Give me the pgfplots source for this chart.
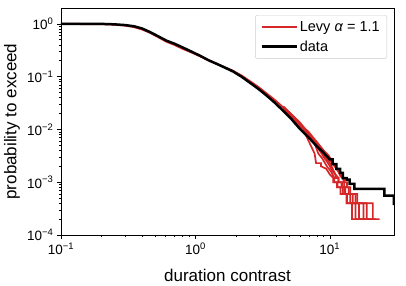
\documentclass[border=0pt]{standalone}
\usepackage{pgfplots}
\pgfplotsset{compat=1.18}
\usepackage{fontspec}
\setmainfont{Liberation Sans}
\definecolor{tabred}{HTML}{D62728}
\begin{document}
\begin{tikzpicture}
\begin{axis}[
  scale only axis, width=333bp, height=227bp,
  xmode=log, ymode=log,
  xmin=0.1, xmax=30, ymin=1e-4, ymax=2,
  xtick={0.1,1,10}, xticklabels={10\textsuperscript{−1},10\textsuperscript{0},10\textsuperscript{1}},
  ytick={1e-4,1e-3,1e-2,1e-1,1}, yticklabels={10\textsuperscript{−4},10\textsuperscript{−3},10\textsuperscript{−2},10\textsuperscript{−1},10\textsuperscript{0}},
  tick align=outside, tick pos=left,
  major tick length=4bp, minor tick length=2bp,
  axis line style={line width=0.8bp},
  tick style={line width=0.6bp, black},
  tick label style={font=\fontsize{13.5bp}{16bp}\selectfont},
  label style={font=\fontsize{17bp}{20bp}\selectfont},
  xlabel={duration contrast}, ylabel={probability to exceed},
  xlabel style={at={(axis description cs:0.5,-0.18)}, anchor=center},
  ylabel style={at={(axis description cs:-0.147,0.5)}, anchor=center},
  legend style={at={(axis description cs:0.979,0.969)}, anchor=north east,
    draw=black!20, rounded corners=2bp, fill=white,
    font=\fontsize{14.5bp}{17bp}\selectfont, inner xsep=5bp, inner ysep=4bp,
    row sep=4bp},
  legend cell align=left,
  legend image code/.code={\draw[#1] (0bp,0bp) -- (35bp,0bp);},
]
% Levy samples: common body
\addplot[tabred, line width=2bp] coordinates {
(0.1,1) (0.2,0.99) (0.25,0.97) (0.3,0.93) (0.35,0.87) (0.4,0.79) (0.46,0.68) (0.53,0.56) (0.61,0.46) (0.7,0.40) (0.81,0.335) (0.93,0.29) (1.08,0.245) (1.25,0.205) (1.44,0.175) (1.66,0.15) (1.91,0.128) (2.2,0.105) (2.54,0.082) (2.93,0.064) (3.38,0.048) (3.9,0.036) (4.5,0.026)
};
\addlegendentry{Levy \textit{α} = 1.1}
\addplot[tabred, line width=1.7bp, forget plot] coordinates {
(4.5,0.027) (5.2,0.019) (6.0,0.0135) (7,0.008) (8,0.0055) (9,0.0038) (10,0.0026) (11,0.0019) (12,0.0014) (12.6,0.0012) (12.6,0.001) (13.4,0.001) (13.4,0.0008) (14.2,0.0008) (14.2,0.0006) (16,0.0006) (16,0.0004) (20.9,0.0004) (20.9,0.0002) (23.5,0.0002)
};
\addplot[tabred, line width=1.7bp, forget plot] coordinates {
(4.5,0.026) (5.2,0.018) (6.0,0.012) (6.8,0.0085) (7.5,0.006) (8.3,0.0042) (9,0.003) (9.8,0.0022) (10.5,0.0016) (11,0.0014) (11,0.0012) (11.6,0.0012) (11.6,0.001) (12.2,0.001) (12.2,0.0008) (12.8,0.0008) (12.8,0.0006) (13.4,0.0006) (13.4,0.0004) (14.6,0.0004) (14.6,0.0002) (20.9,0.0002)
};
\addplot[tabred, line width=1.7bp, forget plot] coordinates {
(4.5,0.027) (5.2,0.019) (6.0,0.013) (7,0.0085) (7.6,0.006) (8.2,0.0035) (8.8,0.0028) (9.5,0.002) (10.2,0.0016) (10.8,0.0012) (10.8,0.001) (11.4,0.001) (11.4,0.0008) (12,0.0008) (12,0.0006) (14.2,0.0006) (14.2,0.0004) (16.5,0.0004) (16.5,0.0002) (19,0.0002)
};
\addplot[tabred, line width=1.7bp, forget plot] coordinates {
(4.5,0.024) (5.2,0.016) (6,0.0105) (6.6,0.008) (7.2,0.005) (7.7,0.0035) (7.9,0.0023) (8.6,0.0023) (8.6,0.002) (9.4,0.0018) (10,0.0014) (10.6,0.0012) (10.6,0.001) (11.3,0.001) (11.3,0.0008) (12.5,0.0008) (12.5,0.0006) (13.3,0.0006) (13.3,0.0004) (15.5,0.0004) (15.5,0.0002) (17.5,0.0002)
};
\addplot[tabred, line width=1.7bp, forget plot] coordinates {
(4.5,0.027) (5.2,0.019) (6,0.0128) (7,0.0088) (8,0.0058) (9,0.0040) (9.8,0.0032) (10.5,0.0024) (11.3,0.0018) (12,0.0013) (12.8,0.0011) (12.8,0.0008) (13.8,0.0008) (13.8,0.0006) (15.5,0.0006) (15.5,0.0004) (18.8,0.0004) (18.8,0.0002) (22,0.0002)
};
\addplot[tabred, line width=1.7bp, forget plot] coordinates {
(4.5,0.025) (5.2,0.017) (6,0.0105) (7,0.0072) (8,0.0046) (9,0.0033) (10,0.0023) (10.5,0.0018) (11,0.0014) (11.6,0.0012) (11.6,0.001) (12.4,0.001) (12.4,0.0008) (13,0.0008) (13,0.0006) (14.8,0.0006) (14.8,0.0004) (17.8,0.0004) (17.8,0.0002) (20,0.0002)
};
% data
\addplot[black, line width=2.5bp] coordinates {
(0.1,1) (0.2,1.0) (0.25,0.98) (0.3,0.95) (0.35,0.9) (0.4,0.82) (0.46,0.70) (0.53,0.58) (0.61,0.48) (0.7,0.42) (0.81,0.355) (0.93,0.30) (1.08,0.25) (1.25,0.205) (1.44,0.175) (1.66,0.148) (1.91,0.125) (2.2,0.1) (2.54,0.077) (2.93,0.059) (3.38,0.044) (3.9,0.032) (4.5,0.0225) (5.2,0.0155) (6.0,0.0102) (6.9,0.0072) (7.95,0.0049) (9,0.0036) (10,0.0027) (10.5,0.0027) (10.5,0.0022) (11.2,0.0022) (11.2,0.0018) (11.9,0.0018) (11.9,0.0015) (12.5,0.0015) (12.5,0.0012) (13.3,0.0012) (13.3,0.00112) (14,0.00112) (14,0.00093) (15.2,0.00093) (15.2,0.00075) (25.4,0.00075) (25.4,0.00056) (30,0.00056) (30,0.00037)
};
\addlegendentry{data}
\end{axis}
\path (current axis.south west) ++(-61bp,-50bp);
\path (current axis.north east) ++(12bp,8bp);
\end{tikzpicture}
\end{document}
